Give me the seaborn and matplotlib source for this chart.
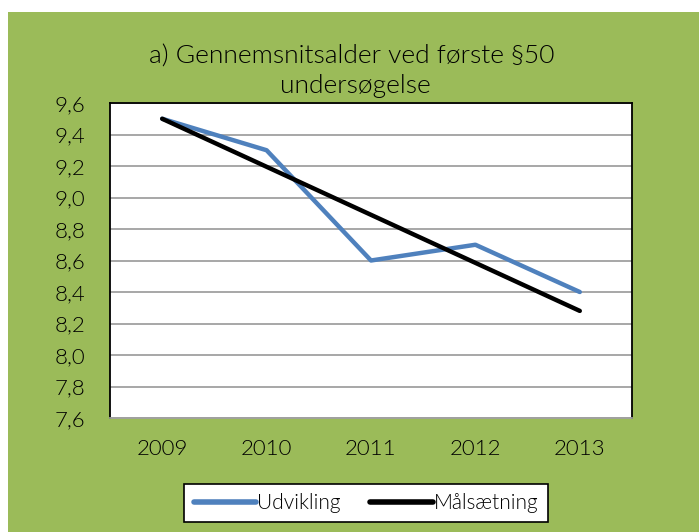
import pandas as pd
import seaborn as sns
import matplotlib.pyplot as plt
from matplotlib.patches import Rectangle
from matplotlib.ticker import FuncFormatter

# Values
years = [2009, 2010, 2011, 2012, 2013]
udvikling = [9.5, 9.3, 8.6, 8.7, 8.4]
maalsaetning = [9.5, 9.195, 8.89, 8.585, 8.28]
series_names = ["Udvikling", "Målsætning"]

df = pd.DataFrame({
    "year": years * 2,
    "value": udvikling + maalsaetning,
    "serie": [series_names[0]] * len(years) + [series_names[1]] * len(years),
})

sns.set_style("white")
plt.rcParams['font.family'] = ['Lato', 'DejaVu Sans']
plt.rcParams['font.weight'] = 300
plt.rcParams['text.color'] = 'black'
plt.rcParams['xtick.color'] = 'black'
plt.rcParams['ytick.color'] = 'black'

W, H = 699, 532
fig = plt.figure(figsize=(W / 100, H / 100), dpi=100)
fig.patch.set_facecolor('white')

# Green chart area background
green = '#9BBB59'
fig.add_artist(Rectangle((8 / W, 0), 1, 1 - 12 / H, transform=fig.transFigure,
                         facecolor=green, edgecolor='none', zorder=0))

# Plot area
left, right, top, bottom = 110, 632, 103, 418
ax = fig.add_axes([left / W, 1 - bottom / H, (right - left) / W, (bottom - top) / H])
ax.set_facecolor('white')

palette = {"Udvikling": '#4F81BD', "Målsætning": '#000000'}
sns.lineplot(data=df, x="year", y="value", hue="serie", palette=palette,
             linewidth=3.2, ax=ax, legend=False, solid_capstyle='round',
             zorder=3)

ax.set_xlim(2008.5, 2013.5)
ax.set_ylim(7.6, 9.6)
ax.set_xticks(years)
ax.set_xticklabels([str(y) for y in years])
ax.set_yticks([7.6 + 0.2 * i for i in range(11)])
ax.yaxis.set_major_formatter(FuncFormatter(lambda v, p: f"{v:.1f}".replace('.', ',')))
ax.tick_params(axis='y', length=0, pad=18, labelsize=16, labelcolor='black')
ax.tick_params(axis='x', length=0, pad=15, labelsize=16, labelcolor='black')
ax.set_xlabel('')
ax.set_ylabel('')

# Gridlines and borders
ax.yaxis.grid(True, color='#A0A0A0', linewidth=1.3)
ax.set_axisbelow(True)
for side in ['left', 'top', 'right']:
    ax.spines[side].set_color('black')
    ax.spines[side].set_linewidth(1.3)
ax.spines['bottom'].set_color('#A0A0A0')
ax.spines['bottom'].set_linewidth(1.3)

# Title (two lines, as in the original)
fig.text(352 / W, 1 - 57 / H, "a) Gennemsnitsalder ved første §50",
         ha='center', va='center', fontsize=19, color='black')
fig.text(355 / W, 1 - 86 / H, "undersøgelse",
         ha='center', va='center', fontsize=19, color='black')

# Legend at the bottom
handles = [plt.Line2D([], [], color=palette[n], linewidth=4, solid_capstyle='round')
           for n in series_names]
leg = fig.legend(handles, series_names, loc='center',
                 bbox_to_anchor=(366 / W, 1 - 503 / H), ncol=2, frameon=True,
                 fontsize=15, handlelength=3.0, handletextpad=0.05,
                 columnspacing=1.4, fancybox=False, borderpad=0.45,
                 framealpha=1, labelcolor='black')
leg.get_frame().set_edgecolor('black')
leg.get_frame().set_linewidth(1.2)
leg.get_frame().set_facecolor('white')

plt.savefig("out.png", dpi=100, facecolor=fig.get_facecolor())
